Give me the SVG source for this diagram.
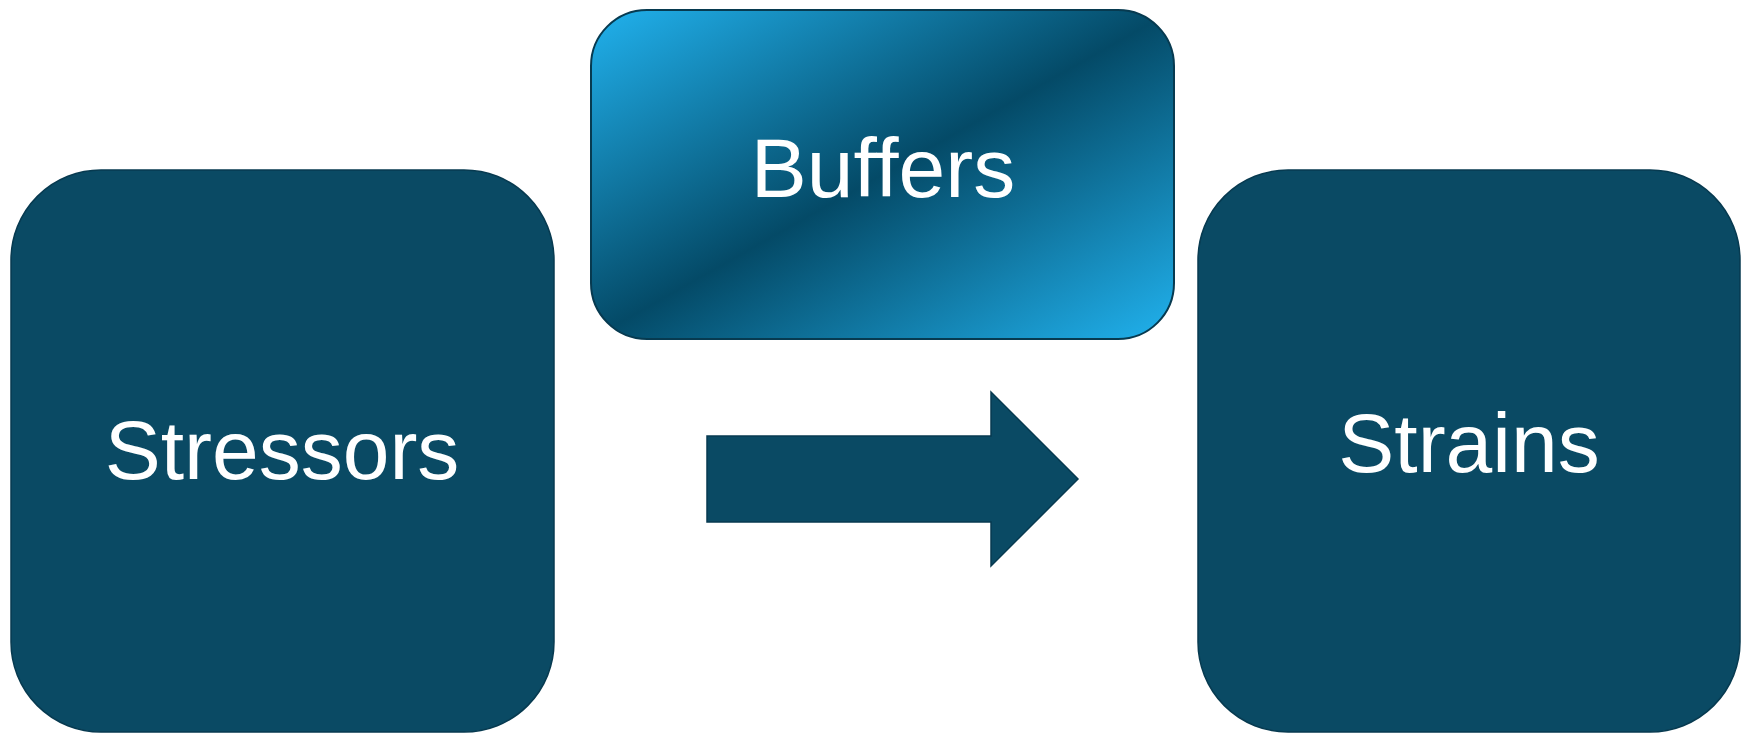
<svg xmlns="http://www.w3.org/2000/svg" width="1748" height="733" viewBox="0 0 1748 733">
  <style>
    .box { fill: #0a4a64; stroke: #073a50; stroke-width: 1.5; }
    .lbl { font-family: "Liberation Sans", Arial, sans-serif; font-size: 84px; fill: #ffffff; text-anchor: middle; }
  </style>
  <defs>
    <linearGradient id="bufGrad" x1="0" y1="0" x2="1" y2="1" gradientUnits="objectBoundingBox">
      <stop offset="0" stop-color="#21b2ee"/>
      <stop offset="0.5" stop-color="#044a67"/>
      <stop offset="1" stop-color="#21b2ee"/>
    </linearGradient>
  </defs>
  <rect width="1748" height="733" fill="#ffffff"/>
  <g id="connectors">
    <path class="box" d="M707,436 L991,436 L991,392 L1078,479 L991,566 L991,522 L707,522 Z"/>
  </g>
  <g id="node-stressors">
    <rect class="box" x="11" y="170" width="543" height="562" rx="90" ry="90"/>
    <text class="lbl" x="282" y="479">Stressors</text>
  </g>
  <g id="node-buffers">
    <rect x="591" y="10" width="583" height="329" rx="56" ry="56" fill="url(#bufGrad)" stroke="#073a50" stroke-width="2"/>
    <text class="lbl" x="883" y="197">Buffers</text>
  </g>
  <g id="node-strains">
    <rect class="box" x="1198" y="170" width="542" height="562" rx="90" ry="90"/>
    <text class="lbl" x="1469" y="472">Strains</text>
  </g>
</svg>
